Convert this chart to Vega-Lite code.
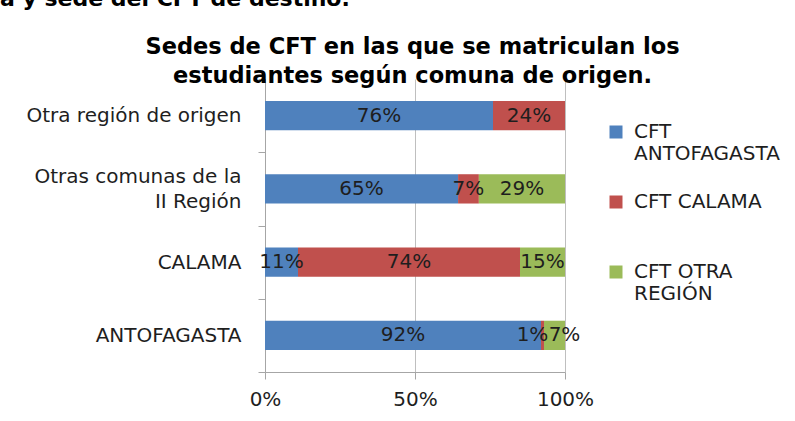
{
  "$schema": "https://vega.github.io/schema/vega-lite/v6.json",
  "width": 300,
  "height": 293,
  "autosize": {"type": "none"},
  "padding": {"left": 265, "top": 79, "right": 230, "bottom": 49},
  "background": "white",
  "config": {"font": "DejaVu Sans", "view": {"stroke": null}},
  "title": {
    "text": "a y sede del CFT de destino.",
    "font": "DejaVu Sans",
    "fontSize": 22,
    "fontWeight": "bold",
    "color": "#000000",
    "anchor": "start",
    "frame": "group",
    "dx": -265,
    "dy": 13,
    "baseline": "alphabetic",
    "offset": 20
  },
  "data": {
    "values": [
      {"origen": "Otra región de origen", "sede": "CFT ANTOFAGASTA", "v": 0.76},
      {"origen": "Otra región de origen", "sede": "CFT CALAMA", "v": 0.24},
      {"origen": "Otras comunas de la II Región", "sede": "CFT ANTOFAGASTA", "v": 0.65},
      {"origen": "Otras comunas de la II Región", "sede": "CFT CALAMA", "v": 0.07},
      {"origen": "Otras comunas de la II Región", "sede": "CFT OTRA REGIÓN", "v": 0.29},
      {"origen": "CALAMA", "sede": "CFT ANTOFAGASTA", "v": 0.11},
      {"origen": "CALAMA", "sede": "CFT CALAMA", "v": 0.74},
      {"origen": "CALAMA", "sede": "CFT OTRA REGIÓN", "v": 0.15},
      {"origen": "ANTOFAGASTA", "sede": "CFT ANTOFAGASTA", "v": 0.92},
      {"origen": "ANTOFAGASTA", "sede": "CFT CALAMA", "v": 0.01},
      {"origen": "ANTOFAGASTA", "sede": "CFT OTRA REGIÓN", "v": 0.07}
    ]
  },
  "transform": [
    {
      "stack": "v",
      "groupby": ["origen"],
      "offset": "normalize",
      "sort": [{"field": "sede", "order": "ascending"}],
      "as": ["x0", "x1"]
    },
    {"calculate": "(datum.x0 + datum.x1) / 2", "as": "mid"}
  ],
  "encoding": {
    "y": {
      "field": "origen",
      "type": "nominal",
      "sort": ["Otra región de origen", "Otras comunas de la II Región", "CALAMA", "ANTOFAGASTA"],
      "scale": {"paddingInner": 0, "paddingOuter": 0},
      "axis": {
        "title": ["Sedes de CFT en las que se matriculan los", "estudiantes según comuna de origen."],
        "titleAngle": 0,
        "titleX": 147,
        "titleY": -26,
        "titleAlign": "center",
        "titleBaseline": "alphabetic",
        "titleLineHeight": 29,
        "titleFont": "DejaVu Sans",
        "titleFontSize": 22.5,
        "titleFontWeight": "bold",
        "titleColor": "#000000",
        "labelFontSize": 20,
        "labelColor": "#1e1e1e",
        "labelLimit": 300,
        "labelPadding": 17,
        "labelLineHeight": 25,
        "labelOffset": {"condition": {"test": "datum.value == 'Otras comunas de la II Región'", "value": -12}, "value": 0},
        "labelExpr": "datum.value == 'Otras comunas de la II Región' ? ['Otras comunas de la', 'II Región'] : datum.value",
        "tickBand": "extent",
        "tickSize": 7,
        "tickColor": "#a6a6a6",
        "domainColor": "#a6a6a6"
      }
    }
  },
  "layer": [
    {
      "mark": {"type": "bar", "height": {"band": 0.4}},
      "encoding": {
        "x": {
          "field": "x0",
          "type": "quantitative",
          "scale": {"domain": [0, 1]},
          "axis": {
            "values": [0, 0.5, 1],
            "format": "%",
            "title": null,
            "labelFontSize": 20,
            "labelColor": "#1e1e1e",
            "labelPadding": 10,
            "labelFlush": false,
            "tickSize": 7,
            "tickColor": "#a6a6a6",
            "domainColor": "#a6a6a6",
            "gridColor": "#bfbfbf"
          }
        },
        "x2": {"field": "x1"},
        "color": {
          "field": "sede",
          "type": "nominal",
          "scale": {
            "domain": ["CFT ANTOFAGASTA", "CFT CALAMA", "CFT OTRA REGIÓN"],
            "range": ["#4F81BD", "#C0504D", "#9BBB59"]
          },
          "legend": {
            "title": null,
            "orient": "none",
            "legendX": 341,
            "legendY": 43,
            "padding": 0,
            "gridAlign": "all",
            "symbolType": "square",
            "symbolSize": 169,
            "symbolStrokeWidth": 0,
            "labelFontSize": 20,
            "labelColor": "#1e1e1e",
            "labelOffset": 8,
            "labelLimit": 300,
            "labelLineHeight": 26,
            "rowPadding": 28,
            "labelExpr": "datum.label == 'CFT ANTOFAGASTA' ? ['CFT', 'ANTOFAGASTA'] : datum.label == 'CFT OTRA REGIÓN' ? ['CFT OTRA', 'REGIÓN'] : datum.label"
          }
        }
      }
    },
    {
      "transform": [{"filter": "datum.origen != 'ANTOFAGASTA' || datum.sede == 'CFT ANTOFAGASTA'"}],
      "mark": {"type": "text", "fontSize": 20, "color": "#1e1e1e"},
      "encoding": {
        "x": {"field": "mid", "type": "quantitative"},
        "text": {"field": "v", "type": "quantitative", "format": ".0%"}
      }
    },
    {
      "transform": [{"filter": "datum.origen == 'ANTOFAGASTA' && datum.sede == 'CFT CALAMA'"}],
      "mark": {"type": "text", "fontSize": 20, "color": "#1e1e1e", "dx": -10},
      "encoding": {
        "x": {"field": "mid", "type": "quantitative"},
        "text": {"field": "v", "type": "quantitative", "format": ".0%"}
      }
    },
    {
      "transform": [{"filter": "datum.origen == 'ANTOFAGASTA' && datum.sede == 'CFT OTRA REGIÓN'"}],
      "mark": {"type": "text", "fontSize": 20, "color": "#1e1e1e", "dx": 10},
      "encoding": {
        "x": {"field": "mid", "type": "quantitative"},
        "text": {"field": "v", "type": "quantitative", "format": ".0%"}
      }
    }
  ]
}
